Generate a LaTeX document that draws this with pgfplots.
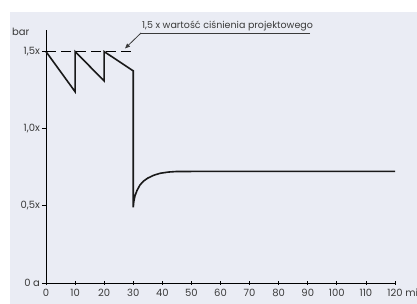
\documentclass[border=0pt]{standalone}
\usepackage{pgfplots}
\pgfplotsset{compat=1.18}
\usepackage{fontspec}
\setmainfont{Poppins}
\usetikzlibrary{arrows.meta}
\definecolor{bg}{HTML}{EAECF4}
\definecolor{txt}{HTML}{3A3A3A}
\begin{document}
\begin{tikzpicture}[x=1pt,y=1pt]
\useasboundingbox (0,0) rectangle (417,304);
\fill[bg] (10,0) rectangle (417,292);
\begin{axis}[
  at={(46pt,21pt)}, anchor=south west,
  scale only axis, width=349pt, height=253pt,
  xmin=0, xmax=120, ymin=0, ymax=1.64,
  axis lines=left,
  axis line style={-, line width=0.9pt, black},
  xtick={0,10,...,120},
  xticklabels={0,10,20,30,40,50,60,70,80,90,100,110,{120\rlap{ min}}},
  ytick={0,0.5,1,1.5},
  yticklabels={0 a,{0,5x},{1,0x},{1,5x}},
  x tick style={line width=0.8pt, black, yshift=2pt},
  y tick style={line width=0.8pt, black},
  tick align=outside,
  major tick length=4pt,
  ticklabel style={font=\fontsize{10}{11}\selectfont, text=txt},
  xticklabel style={yshift=1.5pt},
  yticklabel style={xshift=1.5pt},
  /pgf/number format/assume math mode=true,
  clip=false,
]
\addplot[line width=1.6pt, color=black!90, line join=miter] coordinates {
 (0,1.5) (10,1.24) (10,1.5) (20,1.31) (20,1.5) (30,1.375) (30,0.49)
 (30.2,0.53) (30.6,0.565) (31.3,0.6) (32.3,0.635) (33.5,0.66) (35,0.68)
 (37,0.698) (39.2,0.711) (42,0.719) (45,0.723) (120,0.724)
};
\addplot[line width=0.9pt, black, dash pattern=on 10pt off 5pt] coordinates {(0,1.5) (30.5,1.5)};
\end{axis}
\node[anchor=east, text=txt, font=\fontsize{10}{11}\selectfont] at (33,272) {bar};
\node[anchor=south west, text=txt, font=\fontsize{9.5}{10}\selectfont, inner sep=1pt] at (141,272) {1,5 x wartość ciśnienia projektowego};
\draw[line width=0.8pt, txt] (310,271) -- (141,271);
\draw[line width=0.8pt, txt, -{Triangle[length=5pt,width=4pt]}] (141,271) -- (125,255.5);
\end{tikzpicture}
\end{document}
